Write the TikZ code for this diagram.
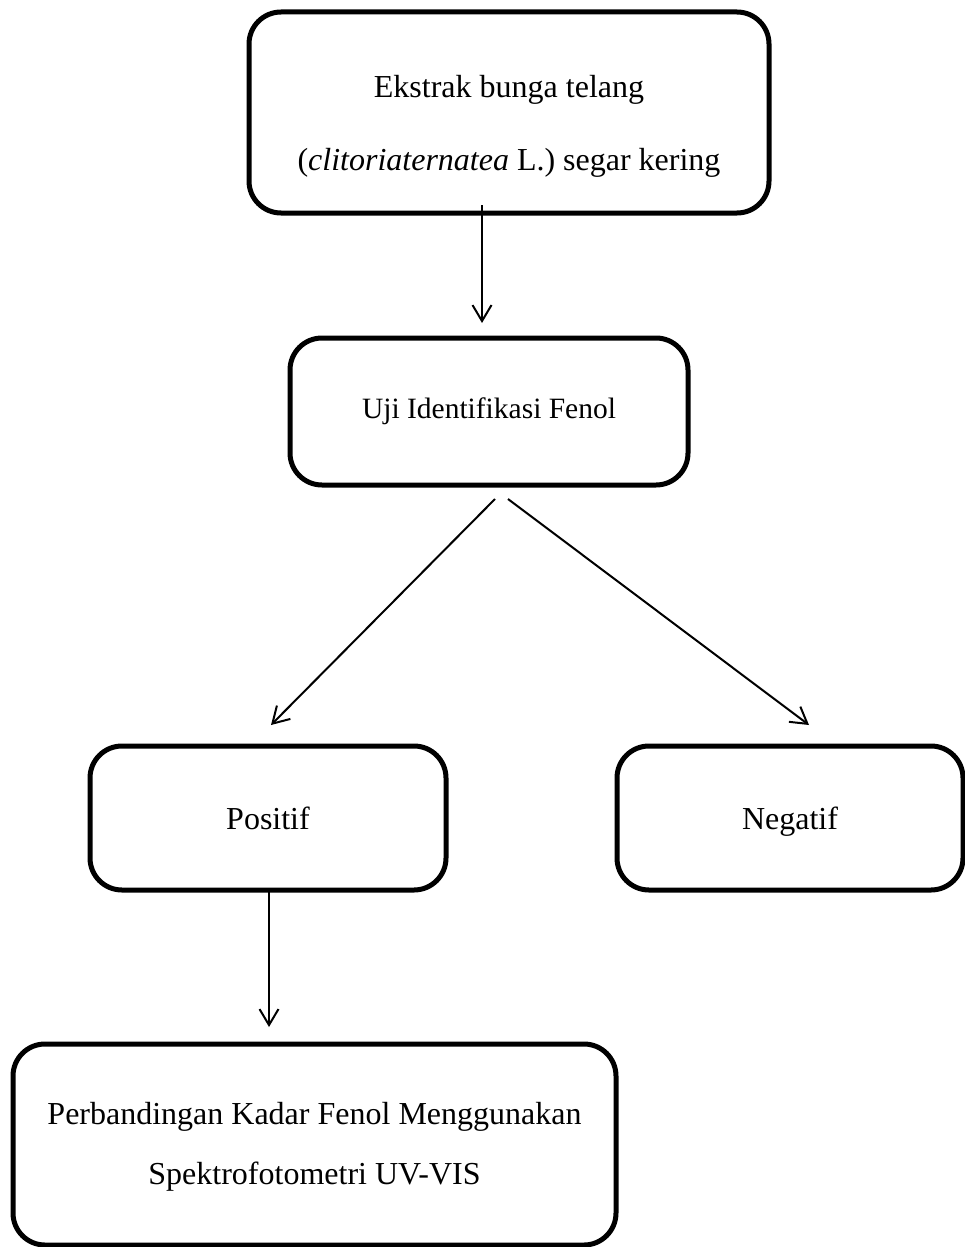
\documentclass[tikz,border=0pt]{standalone}
\usepackage{fontspec}
\setmainfont{Liberation Serif}
\usetikzlibrary{arrows.meta}
\begin{document}
\begin{tikzpicture}[x=1pt,y=-1pt,
  box/.style={draw=black, line width=5pt, rounded corners=32pt, rectangle,
    align=center, inner sep=0pt, font=\fontsize{32}{73}\selectfont},
  conn/.style={line width=2pt, -{Straight Barb[length=16pt,width=19pt,line width=2pt]}}]
\useasboundingbox (0,0) rectangle (965,1247);
% boxes
\node[box, minimum width=520pt, minimum height=201pt] (b1) at (509,112.5)
  {\rule{0pt}{49pt}Ekstrak bunga telang\\(\textit{clitoriaternatea} L.) segar kering};
\node[box, minimum width=398pt, minimum height=147pt, font=\fontsize{29.5}{35}\selectfont] (b2) at (489,411.5)
  {Uji Identifikasi Fenol};
\node[box, minimum width=356pt, minimum height=144pt, text height=22pt, text depth=0pt] (b3) at (268,818)
  {Positif};
\node[box, minimum width=346pt, minimum height=144pt, text height=22pt, text depth=0pt] (b4) at (790,818)
  {Negatif};
\node[box, minimum width=603pt, minimum height=201pt, font=\fontsize{32}{60}\selectfont] (b5) at (314.5,1144.5)
  {\rule{0pt}{26pt}Perbandingan Kadar Fenol Menggunakan\\Spektrofotometri UV-VIS};
% connector end points
\coordinate (a1s) at (482,205);
\coordinate (a1e) at (482,323);
\coordinate (a2s) at (495,499);
\coordinate (a2e) at (271,725);
\coordinate (a3s) at (508,499);
\coordinate (a3e) at (809,725);
\coordinate (a4s) at (269,892);
\coordinate (a4e) at (269,1027);
% connectors
\draw[conn] (a1s) -- (a1e);
\draw[conn] (a2s) -- (a2e);
\draw[conn] (a3s) -- (a3e);
\draw[conn] (a4s) -- (a4e);
\end{tikzpicture}
\end{document}
